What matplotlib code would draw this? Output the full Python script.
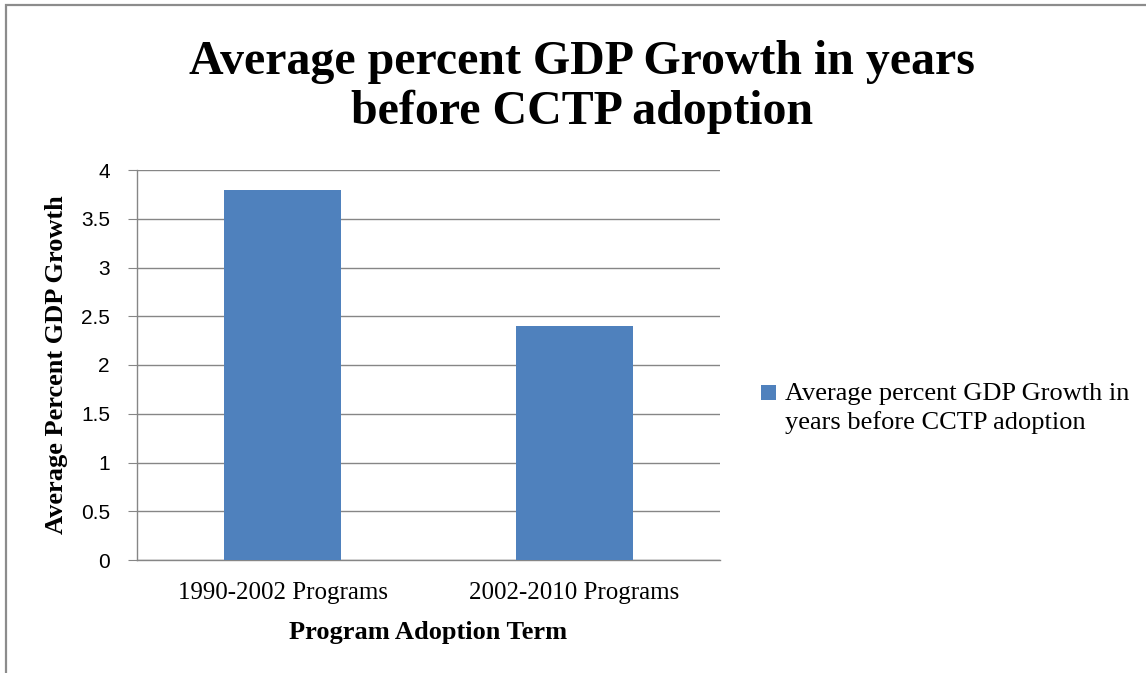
import matplotlib.pyplot as plt
from matplotlib.patches import Rectangle

# Chart data
categories = ['1990-2002 Programs', '2002-2010 Programs']
growth = [3.8, 2.4]
series_name = 'Average percent GDP Growth in\nyears before CCTP adoption'
yticks = [0, 0.5, 1, 1.5, 2, 2.5, 3, 3.5, 4]
ytick_labels = ['0', '0.5', '1', '1.5', '2', '2.5', '3', '3.5', '4']

W, H = 1146, 673
fig = plt.figure(figsize=(W / 100, H / 100), dpi=100)
fig.patch.set_facecolor('white')

# outer chart border (only top/left visible in the reference)
fig.patches.append(Rectangle((5.5 / W, -0.1), 1.2, 1 - 5.5 / H + 0.1,
                             transform=fig.transFigure, fill=False,
                             edgecolor='#8c8c8c', linewidth=1.6))

# plot area
x0, x1, y0, y1 = 137, 720, 170, 560
ax = fig.add_axes([x0 / W, 1 - y1 / H, (x1 - x0) / W, (y1 - y0) / H])

grid_c = '#868686'
ax.bar(range(len(categories)), growth, width=0.4, color='#4F81BD',
       label=series_name, zorder=3)
ax.set_xlim(-0.5, len(categories) - 0.5)
ax.set_ylim(0, 4)
ax.set_yticks(yticks)
ax.set_yticklabels(ytick_labels, fontfamily='Liberation Sans', fontsize=15)
ax.set_xticks(range(len(categories)))
ax.set_xticklabels(categories, fontfamily='Liberation Serif', fontsize=18)
ax.grid(axis='y', color=grid_c, linewidth=1.0, zorder=0)
ax.set_axisbelow(True)
for s in ['top', 'right']:
    ax.spines[s].set_visible(False)
for s in ['left', 'bottom']:
    ax.spines[s].set_color(grid_c)
    ax.spines[s].set_linewidth(1.0)
ax.tick_params(axis='y', length=6.5, color=grid_c, pad=13)
ax.tick_params(axis='x', length=0, pad=16)

ax.set_xlabel('Program Adoption Term', fontfamily='Liberation Serif',
              fontweight='bold', fontsize=19, labelpad=12)
ax.set_ylabel('Average Percent GDP Growth', fontfamily='Liberation Serif',
              fontweight='bold', fontsize=19, labelpad=9)

fig.text(582 / W, 1 - 87 / H,
         'Average percent GDP Growth in years\nbefore CCTP adoption',
         ha='center', va='center', fontfamily='Liberation Serif',
         fontweight='bold', fontsize=34.5, linespacing=1.14)

leg = ax.legend(loc='upper left', bbox_to_anchor=(761 / W, 1 - 383 / H),
                bbox_transform=fig.transFigure, frameon=False,
                prop={'family': 'Liberation Serif', 'size': 19},
                handlelength=0.55, handleheight=0.55, handletextpad=0.35,
                borderpad=0, borderaxespad=0)
leg.get_texts()[0].set_linespacing(1.35)
# put the marker beside the first line of the label, as in the reference
h = leg.legend_handles[0]
h.set_y(h.get_y() + 11)

fig.savefig('out.png', dpi=100)
